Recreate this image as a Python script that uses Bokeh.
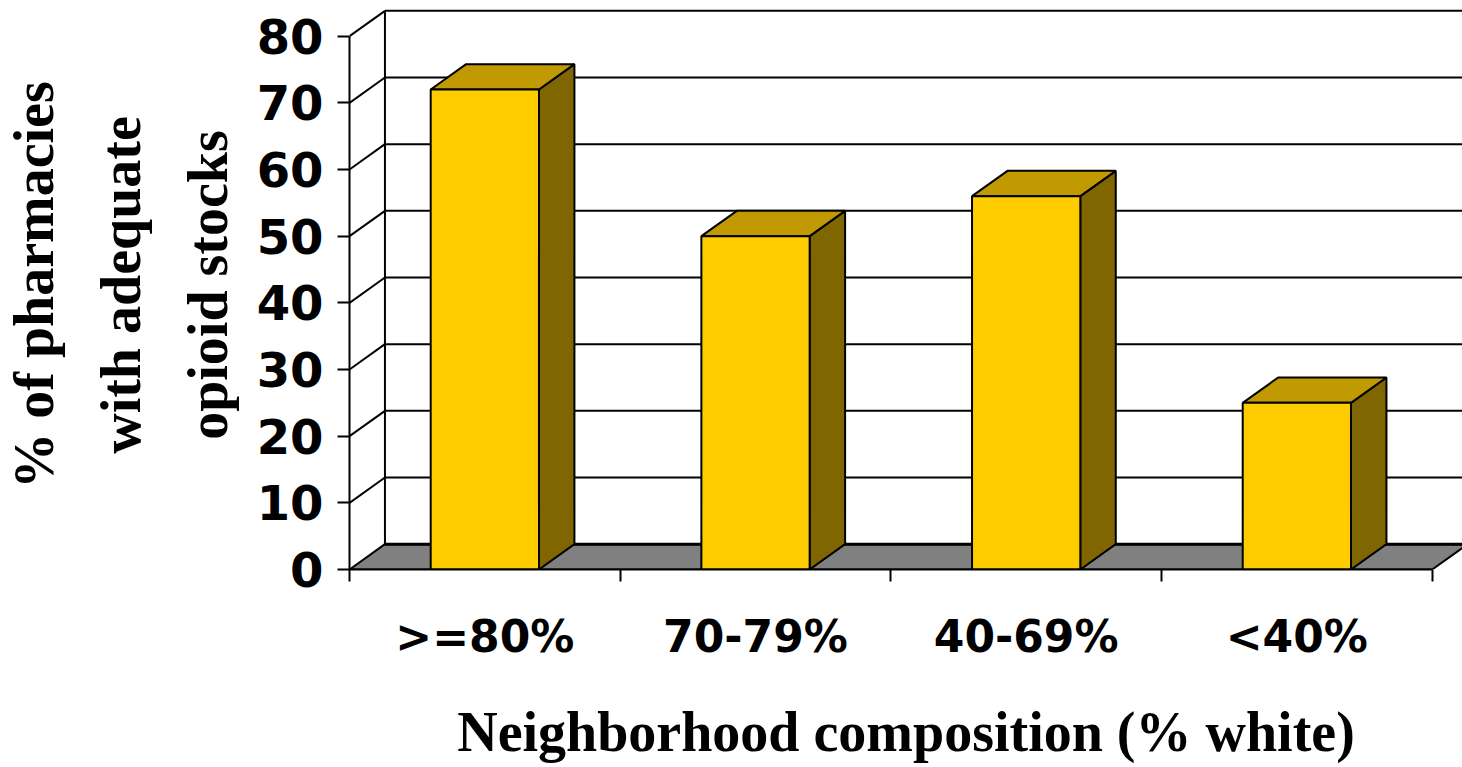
from bokeh.plotting import figure
from bokeh.models import Range1d, LinearAxis, FixedTicker
from bokeh.embed import file_html
from bokeh.resources import INLINE

# Data
categories = [">=80%", "70-79%", "40-69%", "<40%"]
values = [72, 50, 56, 25]
y_ticks = [0, 10, 20, 30, 40, 50, 60, 70, 80]

# 3-D look: depth offset of the back plane (x in category units, y in value units)
DX, DY = 0.131, 3.8
BAR_W = 0.4
X_MAX = 4.112
Y_MAX = 85.35

p = figure(width=1462, height=767,
           x_range=Range1d(0, X_MAX), y_range=Range1d(0, Y_MAX),
           output_backend="svg", toolbar_location=None,
           x_axis_location=None, y_axis_location=None,
           min_border_left=349, min_border_bottom=198,
           min_border_top=0, min_border_right=0)
p.outline_line_color = None
p.xgrid.visible = False
p.ygrid.visible = False
p.background_fill_color = "white"

LW = 2

# Back-wall gridlines and side-wall connectors
grid_vals = [v for v in y_ticks if v > 0]
p.segment(x0=[DX] * len(grid_vals), y0=[v + DY for v in grid_vals],
          x1=[X_MAX + 1] * len(grid_vals), y1=[v + DY for v in grid_vals],
          line_color="black", line_width=LW)
p.segment(x0=[0] * len(grid_vals), y0=grid_vals,
          x1=[DX] * len(grid_vals), y1=[v + DY for v in grid_vals],
          line_color="black", line_width=LW)
# back wall left edge
p.segment(x0=[DX], y0=[DY], x1=[DX], y1=[y_ticks[-1] + DY],
          line_color="black", line_width=LW)

# Floor
n = len(categories)
p.patch(x=[0, n, n + DX, DX], y=[0, 0, DY, DY],
        fill_color="#808080", line_color="black", line_width=LW)
p.segment(x0=[DX], y0=[DY], x1=[X_MAX + 1], y1=[DY], line_color="black", line_width=3)

# Bars
for i, v in enumerate(values):
    c = i + 0.5
    l, r = c - BAR_W / 2, c + BAR_W / 2
    # side face
    p.patch(x=[r, r + DX, r + DX, r], y=[0, DY, v + DY, v],
            fill_color="#806600", line_color="black", line_width=LW)
    # top face
    p.patch(x=[l, r, r + DX, l + DX], y=[v, v, v + DY, v + DY],
            fill_color="#C09A00", line_color="black", line_width=LW)
    # front face
    p.quad(left=[l], right=[r], bottom=[0], top=[v],
           fill_color="#FFCC00", line_color="black", line_width=LW)

# Y axis
yaxis = LinearAxis(ticker=FixedTicker(ticks=y_ticks), bounds=(0, 80))
yaxis.minor_tick_line_color = None
yaxis.major_tick_out = 12
yaxis.major_tick_in = 0
yaxis.axis_line_width = LW
yaxis.major_tick_line_width = LW
yaxis.major_label_text_font = "DejaVu Sans"
yaxis.major_label_text_font_style = "bold"
yaxis.major_label_text_font_size = "48px"
yaxis.major_label_text_color = "black"
yaxis.major_label_standoff = 14
yaxis.axis_label = "% of pharmacies\nwith adequate\nopioid stocks"
yaxis.axis_label_text_font = "Liberation Serif"
yaxis.axis_label_text_font_style = "bold"
yaxis.axis_label_text_font_size = "56px"
yaxis.axis_label_text_line_height = 1.4
yaxis.axis_label_text_color = "black"
yaxis.axis_label_standoff = 15
p.add_layout(yaxis, "left")

# X axis: boundary ticks
xaxis = LinearAxis(ticker=FixedTicker(ticks=list(range(n + 1))), bounds=(0, n))
xaxis.minor_tick_line_color = None
xaxis.major_tick_out = 12
xaxis.major_tick_in = 0
xaxis.axis_line_width = LW
xaxis.major_tick_line_width = LW
xaxis.major_label_text_font_size = "1px"
xaxis.major_label_text_color = None
xaxis.major_label_standoff = 0
p.add_layout(xaxis, "below")

# X axis: category labels and title
centers = [i + 0.5 for i in range(n)]
xlab = LinearAxis(ticker=FixedTicker(ticks=centers),
                  major_label_overrides={c: t for c, t in zip(centers, categories)})
xlab.axis_line_color = None
xlab.major_tick_line_color = None
xlab.minor_tick_line_color = None
xlab.major_label_text_font = "DejaVu Sans"
xlab.major_label_text_font_style = "bold"
xlab.major_label_text_font_size = "44px"
xlab.major_label_text_color = "black"
xlab.major_label_standoff = 23
xlab.axis_label = "Neighborhood composition (% white)"
xlab.axis_label_text_font = "Liberation Serif"
xlab.axis_label_text_font_style = "bold"
xlab.axis_label_text_font_size = "56px"
xlab.axis_label_text_color = "black"
xlab.axis_label_standoff = 36
p.add_layout(xlab, "below")

open("out.html", "w").write(file_html(p, INLINE))
